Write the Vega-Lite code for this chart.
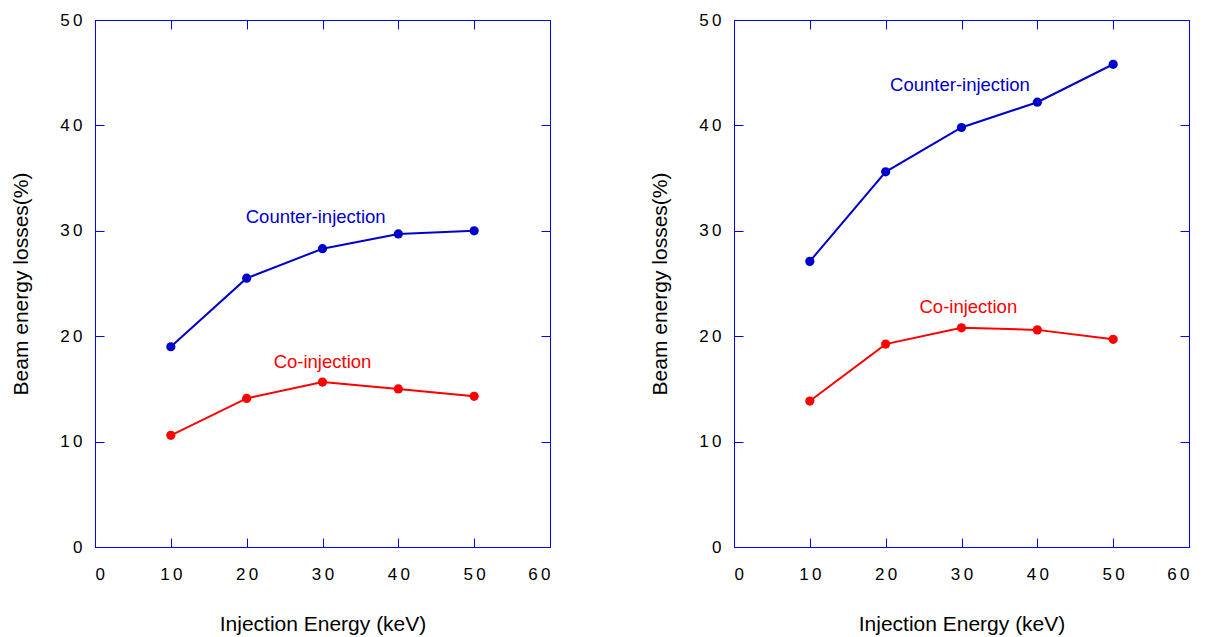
{
  "$schema": "https://vega.github.io/schema/vega-lite/v6.json",
  "padding": {"left": 10, "top": 10, "right": 5, "bottom": 5},
  "spacing": 98,
  "config": {
    "font": "Liberation Sans",
    "view": {"stroke": "#0000FF", "strokeWidth": 1},
    "axis": {
      "grid": false,
      "domainColor": "#0000FF",
      "tickColor": "#0000FF",
      "tickSize": -9,
      "labelFontSize": 17,
      "labelColor": "#000000",
      "titleFontSize": 21,
      "titleFontWeight": "normal",
      "titleColor": "#000000",
      "labelFont": "Liberation Sans",
      "titleFont": "Liberation Sans"
    }
  },
  "datasets": {
    "left": [
      {"energy": 10, "loss": 19.0, "series": "Counter"},
      {"energy": 20, "loss": 25.5, "series": "Counter"},
      {"energy": 30, "loss": 28.3, "series": "Counter"},
      {"energy": 40, "loss": 29.7, "series": "Counter"},
      {"energy": 50, "loss": 30.0, "series": "Counter"},
      {"energy": 10, "loss": 10.6, "series": "Co"},
      {"energy": 20, "loss": 14.1, "series": "Co"},
      {"energy": 30, "loss": 15.65, "series": "Co"},
      {"energy": 40, "loss": 15.0, "series": "Co"},
      {"energy": 50, "loss": 14.3, "series": "Co"}
    ],
    "right": [
      {"energy": 10, "loss": 27.1, "series": "Counter"},
      {"energy": 20, "loss": 35.6, "series": "Counter"},
      {"energy": 30, "loss": 39.8, "series": "Counter"},
      {"energy": 40, "loss": 42.2, "series": "Counter"},
      {"energy": 50, "loss": 45.8, "series": "Counter"},
      {"energy": 10, "loss": 13.85, "series": "Co"},
      {"energy": 20, "loss": 19.25, "series": "Co"},
      {"energy": 30, "loss": 20.8, "series": "Co"},
      {"energy": 40, "loss": 20.6, "series": "Co"},
      {"energy": 50, "loss": 19.7, "series": "Co"}
    ],
    "leftLabels": [
      {"energy": 29.1, "loss": 31.3, "series": "Counter", "label": "Counter-injection"},
      {"energy": 30.0, "loss": 17.55, "series": "Co", "label": "Co-injection"}
    ],
    "rightLabels": [
      {"energy": 29.8, "loss": 43.8, "series": "Counter", "label": "Counter-injection"},
      {"energy": 30.9, "loss": 22.8, "series": "Co", "label": "Co-injection"}
    ]
  },
  "hconcat": [
    {
      "width": 455,
      "height": 527,
      "resolve": {"axis": {"x": "independent", "y": "independent"}},
      "layer": [
        {
          "data": {"name": "left"},
          "mark": {"type": "line", "strokeWidth": 2},
          "encoding": {
            "x": {"field": "energy", "type": "quantitative", "scale": {"domain": [0, 60], "nice": false}, "axis": {"title": "Injection Energy (keV)", "values": [0,10,20,30,40,50,60], "labelPadding": 28, "titlePadding": 31, "labelExpr": "join(split(datum.label, ''), '\u2009')"}},
            "y": {"field": "loss", "type": "quantitative", "scale": {"domain": [0, 50], "nice": false}, "axis": {"title": "Beam energy losses(%)", "values": [0,10,20,30,40,50], "labelPadding": 22, "titlePadding": 28, "labelExpr": "join(split(datum.label, ''), '\u2009')"}},
            "color": {"field": "series", "type": "nominal", "scale": {"domain": ["Counter", "Co"], "range": ["#0000CC", "#FF0000"]}, "legend": null},
            "detail": {"field": "series"}
          }
        },
        {
          "data": {"name": "left"},
          "mark": {"type": "point", "filled": true, "opacity": 1, "size": 85},
          "encoding": {
            "x": {"field": "energy", "type": "quantitative", "axis": null},
            "y": {"field": "loss", "type": "quantitative", "axis": null},
            "color": {"field": "series", "type": "nominal", "legend": null}
          }
        },
        {
          "data": {"name": "leftLabels"},
          "mark": {"type": "text", "fontSize": 18.5, "font": "Liberation Sans"},
          "encoding": {
            "x": {"field": "energy", "type": "quantitative", "axis": {"orient": "top", "labels": false, "title": null, "values": [0,10,20,30,40,50,60], "domain": false}},
            "y": {"field": "loss", "type": "quantitative", "axis": {"orient": "right", "labels": false, "title": null, "values": [0,10,20,30,40,50], "domain": false}},
            "text": {"field": "label"},
            "color": {"field": "series", "type": "nominal", "legend": null}
          }
        }
      ]
    },
    {
      "width": 455,
      "height": 527,
      "resolve": {"axis": {"x": "independent", "y": "independent"}},
      "layer": [
        {
          "data": {"name": "right"},
          "mark": {"type": "line", "strokeWidth": 2},
          "encoding": {
            "x": {"field": "energy", "type": "quantitative", "scale": {"domain": [0, 60], "nice": false}, "axis": {"title": "Injection Energy (keV)", "values": [0,10,20,30,40,50,60], "labelPadding": 28, "titlePadding": 31, "labelExpr": "join(split(datum.label, ''), '\u2009')"}},
            "y": {"field": "loss", "type": "quantitative", "scale": {"domain": [0, 50], "nice": false}, "axis": {"title": "Beam energy losses(%)", "values": [0,10,20,30,40,50], "labelPadding": 22, "titlePadding": 28, "labelExpr": "join(split(datum.label, ''), '\u2009')"}},
            "color": {"field": "series", "type": "nominal", "scale": {"domain": ["Counter", "Co"], "range": ["#0000CC", "#FF0000"]}, "legend": null},
            "detail": {"field": "series"}
          }
        },
        {
          "data": {"name": "right"},
          "mark": {"type": "point", "filled": true, "opacity": 1, "size": 85},
          "encoding": {
            "x": {"field": "energy", "type": "quantitative", "axis": null},
            "y": {"field": "loss", "type": "quantitative", "axis": null},
            "color": {"field": "series", "type": "nominal", "legend": null}
          }
        },
        {
          "data": {"name": "rightLabels"},
          "mark": {"type": "text", "fontSize": 18.5, "font": "Liberation Sans"},
          "encoding": {
            "x": {"field": "energy", "type": "quantitative", "axis": {"orient": "top", "labels": false, "title": null, "values": [0,10,20,30,40,50,60], "domain": false}},
            "y": {"field": "loss", "type": "quantitative", "axis": {"orient": "right", "labels": false, "title": null, "values": [0,10,20,30,40,50], "domain": false}},
            "text": {"field": "label"},
            "color": {"field": "series", "type": "nominal", "legend": null}
          }
        }
      ]
    }
  ]
}
